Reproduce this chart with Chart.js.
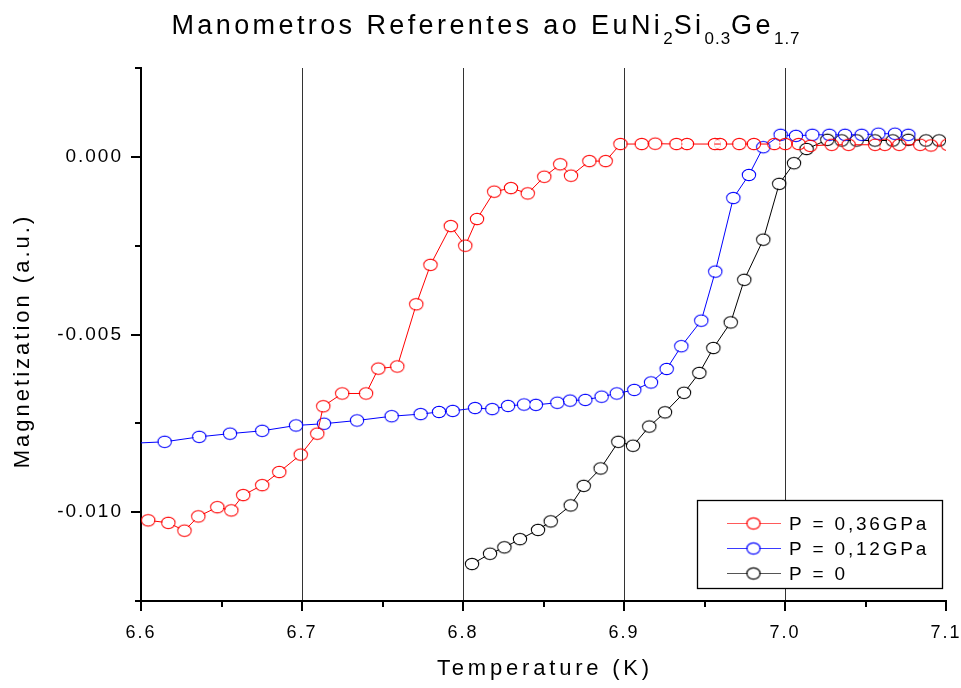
<!DOCTYPE html>
<html>
<head>
<meta charset="utf-8">
<script src="https://cdn.jsdelivr.net/npm/chart.js@4.4.1/dist/chart.umd.min.js"></script>
<style>
  html, body { margin: 0; padding: 0; background: #fff; }
  canvas { display: block; }
</style>
</head>
<body>
<canvas id="magChart" width="961" height="688"></canvas>
<script>
// P = 0,36GPa
const tempRed = [6.6045, 6.6170, 6.6270, 6.6356, 6.6474, 6.6561, 6.6635, 6.6753, 6.6859, 6.6992,
  6.7095, 6.7132, 6.7250, 6.7398, 6.7474, 6.7592, 6.7710, 6.7798, 6.7924, 6.8014,
  6.8087, 6.8194, 6.8298, 6.8402, 6.8505, 6.8604, 6.8671, 6.8785, 6.8886, 6.8978,
  6.9110, 6.9194, 6.9326, 6.9391, 6.9565, 6.9596, 6.9716, 6.9807, 6.9934, 7.0002,
  7.0085, 7.0157, 7.0290, 7.0395, 7.0560, 7.0620, 7.0710, 7.0840, 7.0907, 7.1010];
const magRed = [-0.01023, -0.01030, -0.01052, -0.01012, -0.00986, -0.00995, -0.00952, -0.00924, -0.00887, -0.00838,
  -0.00779, -0.00702, -0.00666, -0.00666, -0.00596, -0.00590, -0.00415, -0.00304, -0.00195, -0.00250,
  -0.00175, -0.00098, -0.00088, -0.00103, -0.00056, -0.00021, -0.00053, -0.00012, -0.00012, 0.00036,
  0.00036, 0.00037, 0.00036, 0.00036, 0.00036, 0.00036, 0.00036, 0.00036, 0.00036, 0.00036,
  0.00036, 0.00031, 0.00034, 0.00034, 0.00034, 0.00034, 0.00034, 0.00034, 0.00032, 0.00034];

// P = 0,12GPa
const tempBlue = [6.5950, 6.6147, 6.6362, 6.6553, 6.6753, 6.6963, 6.7137, 6.7342, 6.7557, 6.7737,
  6.7851, 6.7936, 6.8075, 6.8182, 6.8280, 6.8379, 6.8453, 6.8586, 6.8665, 6.8760,
  6.8861, 6.8955, 6.9064, 6.9168, 6.9265, 6.9356, 6.9480, 6.9567, 6.9679, 6.9776,
  6.9865, 6.9973, 7.0068, 7.0170, 7.0276, 7.0373, 7.0476, 7.0580, 7.0683, 7.0766];
const magBlue = [-0.00806, -0.00802, -0.00788, -0.00779, -0.00771, -0.00756, -0.00751, -0.00742, -0.00730, -0.00724,
  -0.00718, -0.00715, -0.00707, -0.00710, -0.00701, -0.00697, -0.00698, -0.00692, -0.00686, -0.00684,
  -0.00675, -0.00666, -0.00656, -0.00635, -0.00597, -0.00533, -0.00461, -0.00323, -0.00116, -0.00051,
  0.00027, 0.00062, 0.00059, 0.00062, 0.00062, 0.00062, 0.00062, 0.00065, 0.00065, 0.00062];

// P = 0
const tempBlack = [6.8056, 6.8168, 6.8257, 6.8354, 6.8466, 6.8545, 6.8669, 6.8750, 6.8855, 6.8965,
  6.9056, 6.9157, 6.9255, 6.9373, 6.9468, 6.9555, 6.9663, 6.9747, 6.9865, 6.9964,
  7.0056, 7.0134, 7.0263, 7.0352, 7.0445, 7.0559, 7.0669, 7.0766, 7.0876, 7.0957];
const magBlack = [-0.01146, -0.01117, -0.01099, -0.01076, -0.01050, -0.01026, -0.00981, -0.00926, -0.00877, -0.00802,
  -0.00813, -0.00759, -0.00719, -0.00664, -0.00608, -0.00538, -0.00466, -0.00346, -0.00233, -0.00076,
  -0.00018, 0.00022, 0.00048, 0.00046, 0.00046, 0.00046, 0.00046, 0.00048, 0.00046, 0.00046];

const xTicks = [6.6, 6.7, 6.8, 6.9, 7.0, 7.1];
const yTicks = [0.000, -0.005, -0.010];
const seriesLabels = ['P = 0,36GPa', 'P = 0,12GPa', 'P = 0'];
const seriesColors = ['#ff0000', '#0000ff', '#000000'];
const legendLineColors = ['#ff5a5a', '#3a3aff', '#555555'];

const FONT = "'Liberation Sans', Arial, sans-serif";

// hollow elliptical marker like the Origin plot
function ring(color) {
  const c = document.createElement('canvas');
  c.width = 18; c.height = 16;
  const g = c.getContext('2d');
  g.strokeStyle = color;
  g.lineWidth = 1.2;
  g.beginPath();
  g.ellipse(9, 8, 6.6, 5.6, 0, 0, Math.PI * 2);
  g.stroke();
  return c;
}
const rings = seriesColors.map(ring);

function toPoints(xs, ys) {
  return xs.map((x, i) => ({ x: x, y: ys[i] }));
}

function sameTick(list, v) {
  return list.find(t => Math.abs(t - v) < 1e-7);
}

// keep the connecting line out of the circles
const cutLines = {
  id: 'cutLines',
  beforeDatasetDraw(chart, args) {
    const ctx = chart.ctx;
    ctx.save();
    ctx.beginPath();
    ctx.rect(0, 0, chart.width, chart.height);
    args.meta.data.forEach(p => {
      ctx.moveTo(p.x + 5.9, p.y);
      ctx.ellipse(p.x, p.y, 5.9, 4.9, 0, 0, Math.PI * 2);
    });
    ctx.clip('evenodd');
  },
  afterDatasetDraw(chart) {
    chart.ctx.restore();
  }
};

function spacedText(ctx, text, x, y, spacing) {
  ctx.letterSpacing = spacing + 'px';
  ctx.fillText(text, x, y);
}

const decor = {
  id: 'decor',
  beforeDraw(chart) {
    chart.ctx.letterSpacing = '2px';
  },
  afterDraw(chart) {
    const ctx = chart.ctx;
    const xs = chart.scales.x, ys = chart.scales.y;
    const area = chart.chartArea;
    ctx.save();
    ctx.strokeStyle = '#000';
    ctx.lineWidth = 2;
    // tick marks
    xs.ticks.forEach(t => {
      const px = Math.round(xs.getPixelForValue(t.value));
      const len = sameTick(xTicks, t.value) !== undefined ? 10 : 6;
      ctx.beginPath();
      ctx.moveTo(px, area.bottom);
      ctx.lineTo(px, area.bottom + len);
      ctx.stroke();
    });
    ys.ticks.forEach(t => {
      const py = Math.round(ys.getPixelForValue(t.value));
      const len = sameTick(yTicks, t.value) !== undefined ? 10 : 6;
      ctx.beginPath();
      ctx.moveTo(area.left, py);
      ctx.lineTo(area.left - len, py);
      ctx.stroke();
    });

    ctx.fillStyle = '#000';
    // axis titles
    ctx.font = '22px ' + FONT;
    ctx.textAlign = 'center';
    ctx.textBaseline = 'alphabetic';
    spacedText(ctx, 'Temperature (K)', 545, 675, 3.8);
    ctx.save();
    ctx.translate(29, 341);
    ctx.rotate(-Math.PI / 2);
    spacedText(ctx, 'Magnetization (a.u.)', 0, 0, 3);
    ctx.restore();

    // title with subscripts
    const parts = [
      ['Manometros Referentes ao EuNi', false], ['2', true], ['Si', false],
      ['0.3', true], ['Ge', false], ['1.7', true]
    ];
    ctx.textAlign = 'left';
    let total = 0;
    const widths = parts.map(p => {
      ctx.font = (p[1] ? '17px ' : '27px ') + FONT;
      ctx.letterSpacing = (p[1] ? 1 : 3.4) + 'px';
      const w = ctx.measureText(p[0]).width;
      total += w;
      return w;
    });
    let cx = 486 - total / 2;
    parts.forEach((p, i) => {
      ctx.font = (p[1] ? '17px ' : '27px ') + FONT;
      spacedText(ctx, p[0], cx, p[1] ? 44 : 34, p[1] ? 1 : 3.4);
      cx += widths[i];
    });

    // legend
    const bx = 697.5, by = 500.5, bw = 245, bh = 88;
    ctx.fillStyle = '#fff';
    ctx.fillRect(bx, by, bw, bh);
    ctx.lineWidth = 1.3;
    ctx.strokeStyle = '#000';
    ctx.strokeRect(bx, by, bw, bh);
    const rows = [523.5, 548.5, 573.5];
    ctx.font = '19px ' + FONT;
    ctx.textBaseline = 'middle';
    ctx.fillStyle = '#000';
    seriesLabels.forEach((lab, i) => {
      ctx.strokeStyle = legendLineColors[i];
      ctx.lineWidth = 1;
      ctx.beginPath();
      ctx.moveTo(727, rows[i]);
      ctx.lineTo(781, rows[i]);
      ctx.stroke();
      ctx.fillStyle = '#fff';
      ctx.beginPath();
      ctx.ellipse(753.5, rows[i], 6, 5, 0, 0, Math.PI * 2);
      ctx.fill();
      ctx.drawImage(rings[i], 753.5 - 9, rows[i] - 8);
      ctx.fillStyle = '#000';
      spacedText(ctx, lab, 789, rows[i] + 1, 2.8);
    });
    ctx.restore();
  }
};

const datasets = [
  [tempRed, magRed], [tempBlue, magBlue], [tempBlack, magBlack]
].map((s, i) => ({
  label: seriesLabels[i],
  data: toPoints(s[0], s[1]),
  showLine: true,
  borderColor: seriesColors[i],
  borderWidth: 1,
  pointStyle: rings[i],
  pointRadius: 6,
  pointHoverRadius: 6,
  tension: 0
}));

const ctx = document.getElementById('magChart').getContext('2d');
const magChart = new Chart(ctx, {
  type: 'scatter',
  data: { datasets: datasets },
  options: {
    responsive: false,
    devicePixelRatio: 1,
    animation: false,
    events: [],
    layout: { padding: { top: 68, right: 15, left: 0, bottom: 0 } },
    plugins: {
      legend: { display: false },
      tooltip: { enabled: false }
    },
    scales: {
      x: {
        type: 'linear',
        min: 6.6,
        max: 7.1,
        afterFit(scale) { scale.height = 87; scale.paddingLeft = 0; scale.paddingRight = 0; },
        grid: {
          drawTicks: false,
          lineWidth: 1,
          color: c => {
            const v = c.tick ? c.tick.value : NaN;
            const inner = sameTick(xTicks, v);
            return inner !== undefined && inner > 6.65 && inner < 7.05 ? '#333' : 'rgba(0,0,0,0)';
          }
        },
        border: { display: true, color: '#000', width: 2 },
        ticks: {
          stepSize: 0.05,
          autoSkip: false,
          maxRotation: 0,
          padding: 21,
          color: '#000',
          font: { family: FONT, size: 18 },
          callback: v => {
            const t = sameTick(xTicks, v);
            return t === undefined ? '' : t.toFixed(1);
          }
        }
      },
      y: {
        type: 'linear',
        min: -0.0125,
        max: 0.0025,
        afterFit(scale) { scale.width = 141; scale.paddingTop = 0; scale.paddingBottom = 0; },
        grid: { display: false, drawTicks: false },
        border: { display: true, color: '#000', width: 2 },
        ticks: {
          stepSize: 0.0025,
          autoSkip: false,
          padding: 18,
          color: '#000',
          font: { family: FONT, size: 19 },
          callback: v => {
            const t = sameTick(yTicks, v);
            return t === undefined ? '' : t.toFixed(3);
          }
        }
      }
    }
  },
  plugins: [cutLines, decor]
});
</script>
</body>
</html>
